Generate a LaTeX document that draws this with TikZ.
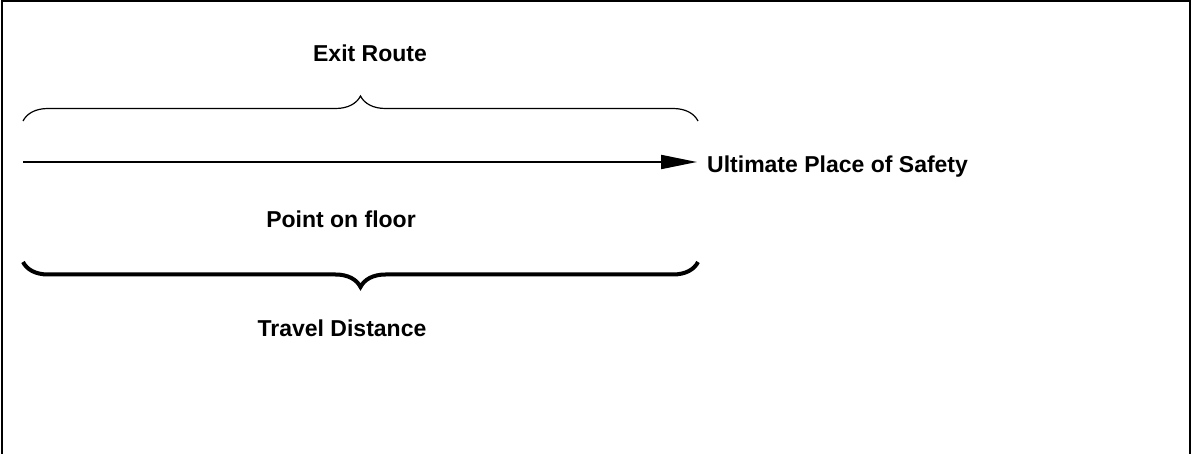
\documentclass[tikz,border=0pt]{standalone}
\usepackage{fontspec}
\setmainfont{Liberation Sans}
\usepackage{tikz}
\usetikzlibrary{arrows.meta,positioning,decorations.pathreplacing}
\tikzset{
  lbl/.style={font=\fontsize{23}{27}\selectfont\bfseries, inner sep=0pt},
  routebrace/.style={decorate, decoration={brace, amplitude=25pt}},
}

\begin{document}
\begin{tikzpicture}[x=1pt, y=1pt]
    \useasboundingbox (0,0) rectangle (1192,-454);
    % frame, bottom edge cut off by the page
    \draw[line width=2pt] (2,-470) -- (2,-1) -- (1190,-1) -- (1190,-470);
    % labels
    \node[lbl, anchor=base] (exit) at (370,-62) {Exit Route};
    \node[lbl, anchor=base west] (safety) at (707,-173) {Ultimate Place of Safety};
    \node[lbl, anchor=base] (point) at (341,-228) {Point on floor};
    \node[lbl, anchor=base] (travel) at (342,-337) {Travel Distance};
    % brace and arrow ends
    \coordinate (exitL) at (23,-121);
    \coordinate (exitR) at (698,-121);
    \coordinate (start) at (23,-162);
    \coordinate (travelL) at (23,-262);
    \coordinate (travelR) at (698,-262);
    \draw[routebrace, line width=1.2pt] (exitL) -- (exitR);
    \draw[line width=2pt, -{Triangle[length=36pt, width=14pt]}] (start) -- (start -| 697,0);
    \draw[routebrace, line width=4pt] (travelR) -- (travelL);
\end{tikzpicture}
\end{document}
